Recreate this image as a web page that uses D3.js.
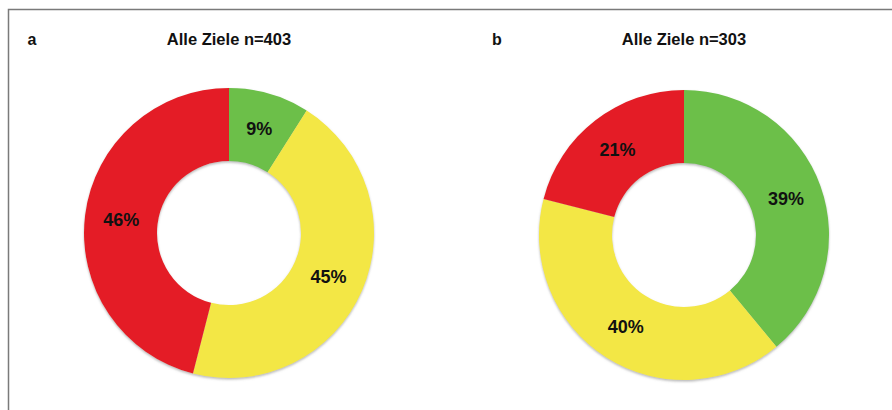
<!DOCTYPE html>
<html>
<head>
  <meta charset="utf-8">
  <style>
    body { margin: 0; background: #fff; font-family: "Liberation Sans", Arial, sans-serif; }
  </style>
  <title>Alle Ziele</title>
</head>
<body>
  <script src="https://cdn.jsdelivr.net/npm/d3@7"></script>
  <script>
    // data
    var categories = ["gruen", "gelb", "rot"];
    var colors = ["#6cbf4a", "#f3e744", "#e41f26"];
    var panelLetters = ["a", "b"];
    var titles = ["Alle Ziele n=403", "Alle Ziele n=303"];
    var valuesA = [9, 45, 46];
    var valuesB = [39, 40, 21];

    var width = 892, height = 410;

    var svg = d3.select("body").append("svg")
      .attr("width", width)
      .attr("height", height);

    var defs = svg.append("defs");
    defs.append("filter").attr("id", "shadow")
      .attr("x", "-10%").attr("y", "-10%").attr("width", "120%").attr("height", "120%")
      .append("feDropShadow")
      .attr("dx", 0).attr("dy", 1.5).attr("stdDeviation", 1.2)
      .attr("flood-color", "#888").attr("flood-opacity", 0.6);

    // frame: top and left line only
    svg.append("path")
      .attr("d", "M8.5," + height + "V9.5H" + width)
      .attr("fill", "none")
      .attr("stroke", "#7a7a7a")
      .attr("stroke-width", 1.5);

    var panels = [
      { letter: panelLetters[0], title: titles[0], values: valuesA, cx: 229, cy: 233, lx: 32 },
      { letter: panelLetters[1], title: titles[1], values: valuesB, cx: 684, cy: 235, lx: 497 }
    ];

    var pie = d3.pie().sort(null).value(function (d) { return d; });
    var arc = d3.arc().innerRadius(72).outerRadius(145);
    var color = d3.scaleOrdinal().domain(categories).range(colors);

    panels.forEach(function (p) {
      svg.append("text")
        .attr("x", p.lx)
        .attr("y", 45)
        .attr("text-anchor", "middle")
        .attr("font-size", 16)
        .attr("font-weight", "bold")
        .attr("fill", "#111")
        .text(p.letter);

      svg.append("text")
        .attr("x", p.cx)
        .attr("y", 45)
        .attr("text-anchor", "middle")
        .attr("font-size", 16.5)
        .attr("font-weight", "bold")
        .attr("fill", "#111")
        .text(p.title);

      var g = svg.append("g")
        .attr("transform", "translate(" + p.cx + "," + p.cy + ")");

      var arcs = pie(p.values);

      g.append("g").attr("filter", "url(#shadow)")
        .selectAll("path")
        .data(arcs)
        .enter().append("path")
        .attr("d", arc)
        .attr("fill", function (d, i) { return color(categories[i]); });

      g.selectAll("text.lbl")
        .data(arcs)
        .enter().append("text")
        .attr("class", "lbl")
        .attr("transform", function (d) { return "translate(" + arc.centroid(d) + ")"; })
        .attr("dy", "0.36em")
        .attr("text-anchor", "middle")
        .attr("font-size", 18)
        .attr("font-weight", "bold")
        .attr("fill", "#111")
        .text(function (d) { return d.value + "%"; });
    });
  </script>
</body>
</html>
